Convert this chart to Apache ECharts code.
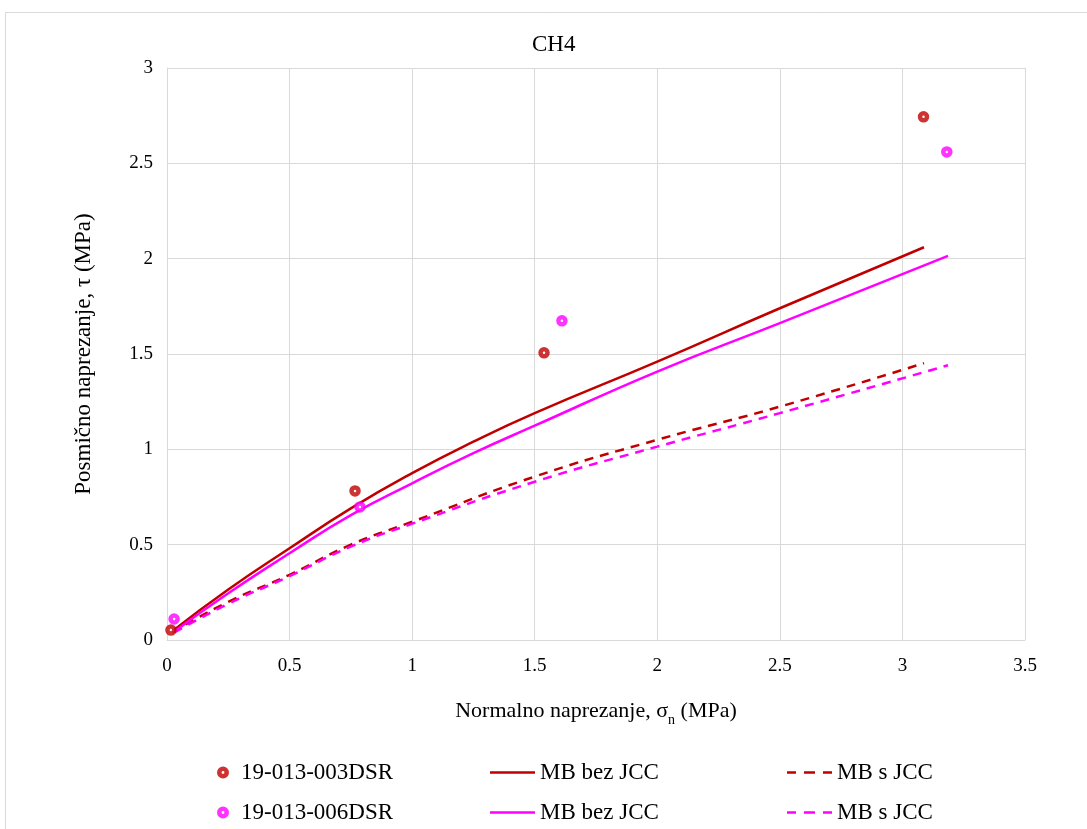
<!DOCTYPE html>
<html>
<head>
<meta charset="utf-8">
<script src="https://cdn.jsdelivr.net/npm/echarts@6/dist/echarts.min.js"></script>
<style>html,body{margin:0;padding:0;background:#fff;}#c{width:1087px;height:829px;}</style>
</head>
<body>
<div id="c"></div>
<script>
// Measured points (sigma_n, tau)
const pts003X = [0.016, 0.767, 1.538, 3.086];
const pts003Y = [0.052, 0.782, 1.506, 2.744];
const pts006X = [0.029, 0.787, 1.611, 3.181];
const pts006Y = [0.110, 0.698, 1.674, 2.560];

// MB bez JCC curves
const mb003X = [0.02, 0.25, 0.5, 0.75, 1.0, 1.25, 1.5, 2.0, 2.5, 3.088];
const mb003Y = [0.045, 0.265, 0.481, 0.69, 0.875, 1.04, 1.19, 1.46, 1.74, 2.06];
const mb006X = [0.03, 0.25, 0.5, 0.75, 1.0, 1.25, 1.5, 2.0, 2.5, 3.186];
const mb006Y = [0.045, 0.245, 0.455, 0.655, 0.822, 0.98, 1.124, 1.408, 1.662, 2.015];

// MB s JCC curves
const jcc003X = [0.02, 0.25, 0.5, 0.75, 1.0, 1.5, 2.0, 2.5, 3.088];
const jcc003Y = [0.04, 0.2, 0.342, 0.5, 0.62, 0.857, 1.05, 1.224, 1.452];
const jcc006X = [0.03, 0.25, 0.5, 0.75, 1.0, 1.5, 2.0, 2.5, 3.186];
const jcc006Y = [0.04, 0.19, 0.335, 0.49, 0.61, 0.83, 1.014, 1.19, 1.441];

const xTicks = [0, 0.5, 1, 1.5, 2, 2.5, 3, 3.5];
const yTicks = [0, 0.5, 1, 1.5, 2, 2.5, 3];

const zip = (a, b) => a.map((v, i) => [v, b[i]]);
const RED = '#C00000', MAG = '#FF00FF';
const FONT = '"Liberation Serif", "Times New Roman", serif';

const displayNames = {
  s003: '19-013-003DSR', s006: '19-013-006DSR',
  mb003: 'MB bez JCC', mb006: 'MB bez JCC',
  jcc003: 'MB s JCC', jcc006: 'MB s JCC'
};

const RING = 'path://M6,0A6,6,0,1,1,6,12A6,6,0,1,1,6,0ZM6,4.6A1.4,1.4,0,1,0,6,7.4A1.4,1.4,0,1,0,6,4.6Z';
const SOLID = 'path://M0,0h45v1h-45z';
const DASH = 'path://M0,0h9v1h-9zM17,0h11v1h-11zM36,0h9v1h-9z';

function lg(name, left, top, icon, color, w, h, padLeft) {
  return {
    left: left, top: top, itemWidth: w, itemHeight: h, icon: icon,
    symbolKeepAspect: false,
    itemStyle: { color: color, borderWidth: 0 },
    lineStyle: { width: 0 },
    data: [name], formatter: n => displayNames[n],
    textStyle: { fontFamily: FONT, fontSize: 23, color: '#000', padding: [0, 0, 0, padLeft] },
    selectedMode: false
  };
}

const chart = echarts.init(document.getElementById('c'));
chart.setOption({
  animation: false,
  backgroundColor: '#fff',
  textStyle: { fontFamily: FONT },
  graphic: [{
    type: 'rect', left: 3, top: 10, z: -10,
    shape: { width: 1200, height: 900 },
    style: { fill: 'none', stroke: '#d9d9d9', lineWidth: 1 }
  }],
  title: {
    text: 'CH4', left: 532, top: 33, padding: 0,
    textStyle: { fontFamily: FONT, fontSize: 23, fontWeight: 'normal', color: '#000' }
  },
  grid: { left: 167, right: 62, top: 68, bottom: 189, containLabel: false },
  xAxis: {
    type: 'value', min: 0, max: 3.5, interval: 0.5,
    name: '{a|Normalno naprezanje, σ}{sub|n}{a| (MPa)}',
    nameLocation: 'middle', nameGap: 54,
    nameTextStyle: {
      rich: {
        a: { fontFamily: FONT, fontSize: 22, color: '#000', lineHeight: 28, verticalAlign: 'bottom' },
        sub: { fontFamily: FONT, fontSize: 14, color: '#000', lineHeight: 28, verticalAlign: 'bottom', padding: [0, 0, -5, 0] }
      }
    },
    axisLine: { lineStyle: { color: '#d9d9d9', width: 1 } },
    axisTick: { show: false },
    axisLabel: { margin: 17, fontFamily: FONT, fontSize: 19, color: '#000',
      formatter: v => xTicks.includes(v) ? String(v) : '' },
    splitLine: { lineStyle: { color: '#d9d9d9', width: 1 } }
  },
  yAxis: {
    type: 'value', min: 0, max: 3, interval: 0.5,
    name: 'Posmično naprezanje, τ (MPa)',
    nameLocation: 'middle', nameGap: 72,
    nameTextStyle: { fontFamily: FONT, fontSize: 23, color: '#000' },
    axisLine: { show: true, lineStyle: { color: '#d9d9d9', width: 1 } },
    axisTick: { show: false },
    axisLabel: { margin: 14, fontFamily: FONT, fontSize: 19, color: '#000',
      formatter: v => yTicks.includes(v) ? String(v) : '' },
    splitLine: { lineStyle: { color: '#d9d9d9', width: 1 } }
  },
  legend: [
    lg('s003', 212, 756, RING, RED, 12, 12, 7),
    lg('s006', 212, 796, RING, MAG, 12, 12, 7),
    lg('mb003', 485, 756, SOLID, RED, 45, 2.5, 0),
    lg('mb006', 485, 796, SOLID, MAG, 45, 2.5, 0),
    lg('jcc003', 782, 756, DASH, RED, 45, 2.5, 0),
    lg('jcc006', 782, 796, DASH, MAG, 45, 2.5, 0)
  ],
  series: [
    { name: 'jcc003', type: 'line', smooth: true, symbol: 'none', data: zip(jcc003X, jcc003Y),
      lineStyle: { color: RED, width: 2.5, type: [9, 7] }, itemStyle: { color: RED }, z: 2 },
    { name: 'jcc006', type: 'line', smooth: true, symbol: 'none', data: zip(jcc006X, jcc006Y),
      lineStyle: { color: MAG, width: 2.5, type: [9, 7] }, itemStyle: { color: MAG }, z: 2 },
    { name: 'mb003', type: 'line', smooth: true, symbol: 'none', data: zip(mb003X, mb003Y),
      lineStyle: { color: RED, width: 2.5 }, itemStyle: { color: RED }, z: 3 },
    { name: 'mb006', type: 'line', smooth: true, symbol: 'none', data: zip(mb006X, mb006Y),
      lineStyle: { color: MAG, width: 2.5 }, itemStyle: { color: MAG }, z: 3 },
    { name: 's003', type: 'scatter', symbol: 'circle', symbolSize: 7, data: zip(pts003X, pts003Y),
      itemStyle: { color: '#fff', borderColor: RED, borderWidth: 4.5 }, z: 5 },
    { name: 's006', type: 'scatter', symbol: 'circle', symbolSize: 7, data: zip(pts006X, pts006Y),
      itemStyle: { color: '#fff', borderColor: MAG, borderWidth: 4.5 }, z: 5 }
  ]
});
</script>
</body>
</html>
